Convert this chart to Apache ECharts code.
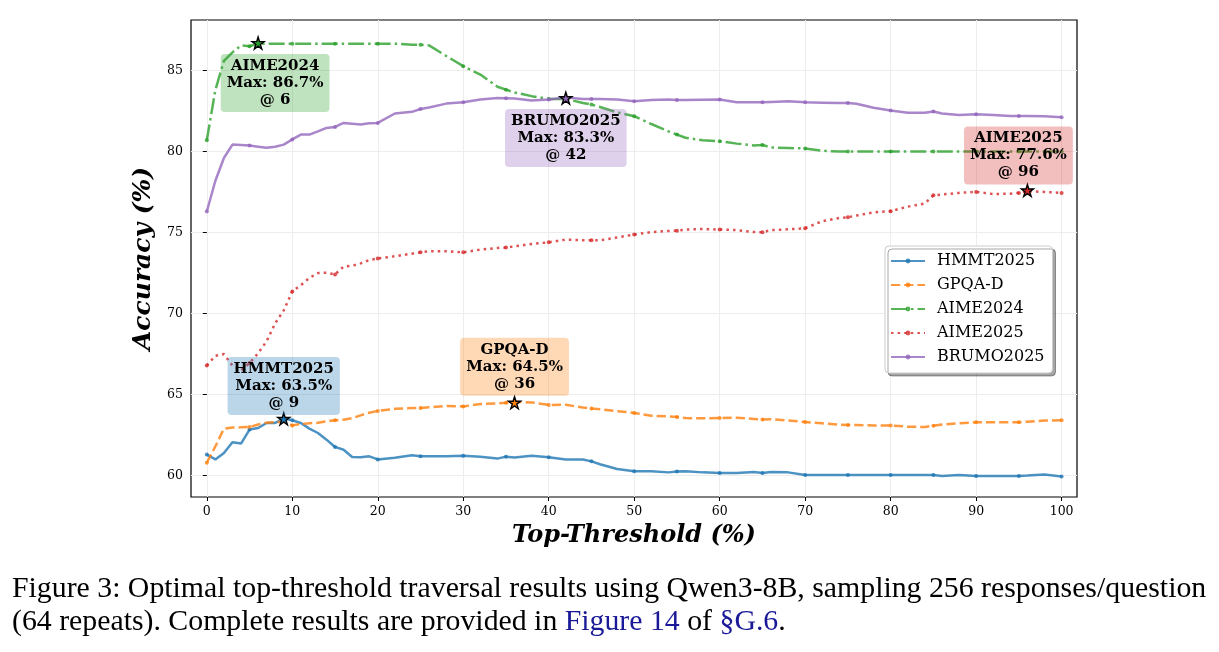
<!DOCTYPE html>
<html>
<head>
<meta charset="utf-8">
<script src="https://cdn.jsdelivr.net/npm/echarts@6/dist/echarts.min.js"></script>
<style>
html,body{margin:0;padding:0;background:#fff;}
#main{width:1219px;height:652px;}
</style>
</head>
<body>
<div id="main"></div>
<script>
// ---- data ----
const xs = [0,1,2,3,4,5,6,7,8,9,10,11,12,13,14,15,16,17,18,19,20,
  22,24,25,26,28,30, 32,34,35,36,38,40, 42,44,45,46,48,50, 52,54,55,56,58,60,
  62,64,65,66,68,70, 72,74,75,76,78,80, 82,84,85,86,88,90, 92,94,95,96,98,100];

const hmmt2025 = [61.3,61.0,61.4,62.06,61.98,62.84,62.94,63.25,63.25,63.52,63.42,63.25,62.9,62.63,62.22,61.77,61.6,61.15,61.13,61.19,61.0,
  61.1,61.25,61.2,61.19,61.2,61.23, 61.17,61.05,61.17,61.12,61.22,61.13, 61.0,61.0,60.88,60.7,60.41,60.27, 60.27,60.2,60.25,60.27,60.2,60.16,
  60.16,60.22,60.16,60.22,60.2,60.04, 60.04,60.04,60.04,60.04,60.04,60.04, 60.04,60.04,60.04,59.97,60.04,59.97, 59.97,59.97,59.97,60.0,60.07,59.95];

const gpqaD = [60.8,61.8,62.9,62.97,62.98,63.0,63.15,63.27,63.3,63.33,63.1,63.18,63.23,63.26,63.35,63.42,63.45,63.55,63.72,63.88,63.99,
  64.12,64.17,64.18,64.22,64.3,64.27, 64.42,64.46,64.49,64.55,64.52,64.36, 64.37,64.2,64.14,64.1,63.98,63.87, 63.7,63.65,63.62,63.55,63.54,63.56,
  63.57,63.5,63.46,63.48,63.4,63.31, 63.23,63.15,63.13,63.12,63.1,63.09, 63.02,63.0,63.08,63.15,63.23,63.29, 63.3,63.3,63.29,63.33,63.4,63.42];

const aime2024 = [80.7,83.8,85.6,86.12,86.55,86.5,86.67,86.65,86.65,86.65,86.66,86.66,86.66,86.66,86.66,86.66,86.66,86.66,86.66,86.66,86.66,
  86.66,86.6,86.6,86.55,85.9,85.27, 84.75,84.0,83.82,83.65,83.42,83.25, 83.25,83.0,82.9,82.75,82.42,82.18, 81.7,81.25,81.05,80.85,80.7,80.64,
  80.49,80.38,80.41,80.25,80.22,80.19, 80.05,80.0,80.0,80.0,80.0,80.0, 80.0,80.0,80.0,80.0,80.0,80.0, 80.0,80.0,80.0,80.0,80.0,80.0];

const aime2025 = [66.8,67.4,67.5,66.8,66.5,66.95,67.55,68.3,69.4,70.2,71.37,71.75,72.2,72.5,72.52,72.42,72.9,72.95,73.1,73.3,73.4,
  73.54,73.7,73.78,73.85,73.85,73.78, 73.95,74.05,74.08,74.15,74.3,74.4, 74.57,74.53,74.52,74.52,74.7,74.88, 75.03,75.1,75.12,75.18,75.22,75.19,
  75.15,75.03,75.02,75.15,75.2,75.27, 75.7,75.9,75.95,76.05,76.25,76.32, 76.6,76.8,77.3,77.35,77.45,77.51, 77.38,77.4,77.45,77.55,77.51,77.45];

const brumo2025 = [76.3,78.2,79.6,80.43,80.4,80.37,80.3,80.23,80.3,80.43,80.75,81.05,81.05,81.25,81.46,81.52,81.77,81.72,81.67,81.75,81.77,
  82.35,82.45,82.63,82.72,82.96,83.04, 83.21,83.3,83.29,83.28,83.15,83.21, 83.33,83.25,83.25,83.25,83.22,83.11, 83.18,83.21,83.18,83.18,83.2,83.21,
  83.05,83.04,83.04,83.06,83.1,83.04, 83.02,83.0,83.0,82.95,82.7,82.53, 82.4,82.39,82.47,82.35,82.25,82.3, 82.25,82.2,82.2,82.2,82.18,82.12];

const seriesNames = ['HMMT2025','GPQA-D','AIME2024','AIME2025','BRUMO2025'];
const maxAt = [9, 36, 6, 96, 42];
const maxVal = [63.5, 64.5, 86.7, 77.6, 83.3];
const xTicks = [0,10,20,30,40,50,60,70,80,90,100];
const yTicks = [60,65,70,75,80,85];

// ---- styles ----
const allValues = [hmmt2025, gpqaD, aime2024, aime2025, brumo2025];
const colors = ['#1f77b4','#ff7f0e','#2ca02c','#d62728','#9467bd'];
const boxColors = ['rgba(31,119,180,0.3)','rgba(255,127,14,0.3)','rgba(44,160,44,0.3)','rgba(214,39,40,0.3)','rgba(148,103,189,0.3)'];
const dashes = ['solid', [9.2,4], [16,4,2.5,4], [2.5,4.1], 'solid'];
const boxOffsets = [[0,-33],[0,-36],[17,40],[-9,-35],[0,40]];
const starPath = 'path://M50 0 L61.17 34.63 L97.55 34.55 L68.07 55.87 L79.39 90.45 L50 69 L20.61 90.45 L31.93 55.87 L2.45 34.55 L38.83 34.63 Z';
const SERIF = '"DejaVu Serif", serif';
const CAPFONT = '29.8px "Liberation Serif", "Times New Roman", serif';

const series = seriesNames.map((name, i) => ({
  name: name,
  type: 'line',
  data: xs.map((x, k) => [x, allValues[i][k]]),
  smooth: false,
  showSymbol: true,
  showAllSymbol: true,
  symbol: 'circle',
  symbolSize: function (v) { return (v[0] % 5 === 0) ? 4 : 0; },
  lineStyle: { color: colors[i], width: 2.5, type: dashes[i], opacity: 0.8, cap: 'butt' },
  itemStyle: { color: colors[i], opacity: 0.8 },
  z: 2 + i,
  emphasis: { disabled: true },
  markPoint: {
    animation: false,
    silent: true,
    z: 10,
    data: [
      {
        coord: [maxAt[i], maxVal[i]],
        symbol: starPath,
        symbolSize: 12,
        itemStyle: { color: colors[i], borderColor: '#000', borderWidth: 1.4, opacity: 1 },
        label: { show: false }
      },
      {
        coord: [maxAt[i], maxVal[i]],
        symbol: 'circle',
        symbolSize: 1,
        itemStyle: { color: 'rgba(0,0,0,0)', borderWidth: 0, opacity: 1 },
        label: {
          show: true,
          position: 'inside',
          offset: boxOffsets[i],
          formatter: name + '\nMax: ' + maxVal[i].toFixed(1) + '%\n@ ' + maxAt[i],
          fontFamily: SERIF,
          fontWeight: 'bold',
          fontSize: 15,
          lineHeight: 17,
          color: '#000',
          align: 'center',
          verticalAlign: 'middle',
          backgroundColor: boxColors[i],
          borderRadius: 4,
          padding: [4, 6, 3, 6]
        }
      }
    ]
  }
}));

const chart = echarts.init(document.getElementById('main'), null, { renderer: 'canvas' });
chart.setOption({
  animation: false,
  backgroundColor: '#fff',
  grid: { left: 191, right: 142, top: 20, bottom: 155, show: true, borderColor: '#000', borderWidth: 1.2, backgroundColor: 'transparent' },
  xAxis: {
    type: 'value',
    min: -1.85, max: 101.8,
    splitNumber: 10,
    name: 'Top-Threshold (%)',
    nameLocation: 'middle',
    nameGap: 27,
    nameTextStyle: { fontFamily: SERIF, fontStyle: 'italic', fontWeight: 'bold', fontSize: 24, color: '#000' },
    axisLine: { show: false },
    axisTick: { show: true, customValues: xTicks, length: 4, lineStyle: { color: '#000', width: 1 } },
    axisLabel: { customValues: xTicks, fontFamily: SERIF, fontSize: 12.5, color: '#000', margin: 8 },
    splitLine: { show: true, lineStyle: { color: '#ededed', width: 1 } }
  },
  yAxis: {
    type: 'value',
    min: 58.68, max: 88.12,
    splitNumber: 5,
    name: 'Accuracy (%)',
    nameLocation: 'middle',
    nameGap: 24,
    nameTextStyle: { fontFamily: SERIF, fontStyle: 'italic', fontWeight: 'bold', fontSize: 25, color: '#000' },
    axisLine: { show: false },
    axisTick: { show: true, customValues: yTicks, length: 4, lineStyle: { color: '#000', width: 1 } },
    axisLabel: { customValues: yTicks, fontFamily: SERIF, fontSize: 12.5, color: '#000', margin: 8 },
    splitLine: { show: true, lineStyle: { color: '#ededed', width: 1 } }
  },
  legend: {
    orient: 'vertical',
    left: 885, top: 246,
    padding: [5, 8, 6, 5],
    itemWidth: 34,
    itemHeight: 6,
    itemGap: 4,
    backgroundColor: '#fff',
    borderColor: '#cccccc',
    borderWidth: 1,
    borderRadius: 4,
    shadowColor: 'rgba(0,0,0,0.35)',
    shadowOffsetX: 3,
    shadowOffsetY: 3,
    shadowBlur: 0,
    selectedMode: false,
    textStyle: { fontFamily: SERIF, fontSize: 16, lineHeight: 20, color: '#000', padding: [0, 0, 0, 7] },
    data: seriesNames
  },
  graphic: [
    {
      type: 'text', left: 12, top: 574,
      style: { text: 'Figure 3: Optimal top-threshold traversal results using Qwen3-8B, sampling 256 responses/question',
               font: CAPFONT, fill: '#000' }
    },
    {
      type: 'text', left: 12, top: 607,
      style: {
        text: '(64 repeats). Complete results are provided in {b|Figure 14} of {b|§G.6}.',
        font: CAPFONT, fill: '#000',
        rich: { b: { fill: '#1a1a99', font: CAPFONT } }
      }
    }
  ],
  series: series
});
</script>
</body>
</html>
